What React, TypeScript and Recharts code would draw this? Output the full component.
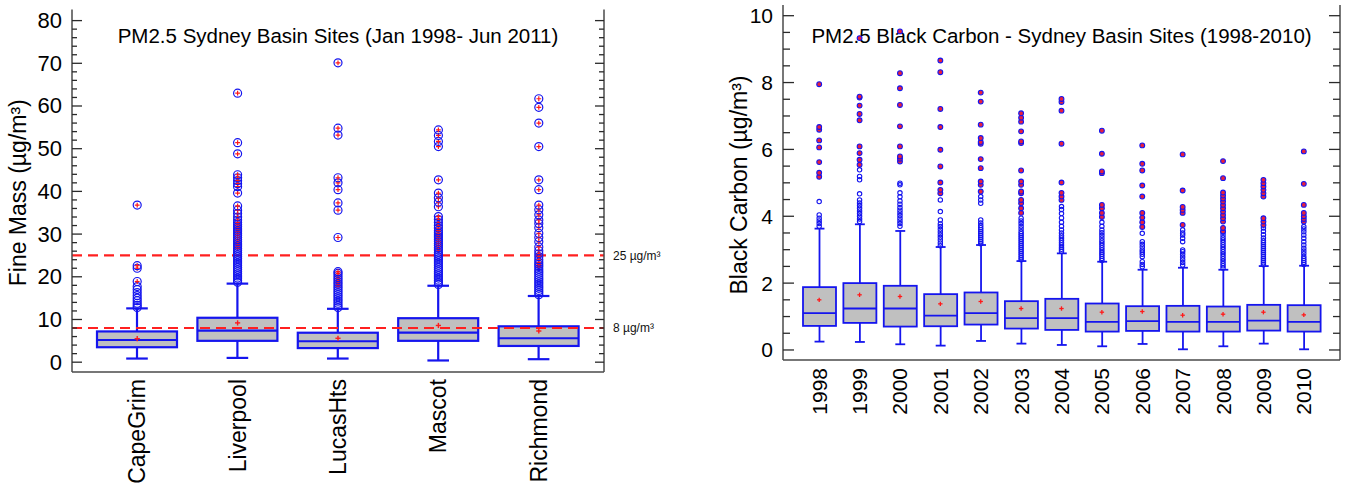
import React from 'react';
import { ComposedChart, Bar, Scatter, XAxis, YAxis, ReferenceLine } from 'recharts';

const FONT = '"Liberation Sans", Arial, Helvetica, sans-serif';
const BLUE = '#1515ee';
const RED = '#ff1a1a';
const GRAY = '#c0c0c0';
const FRAME = '#4a4a4a';

// ---------------- Left chart: PM2.5 fine mass ----------------
const fmTitle = 'PM2.5 Sydney Basin Sites (Jan 1998- Jun 2011)';
const fmYLabel = 'Fine Mass (µg/m³)';
const fmSites = ['CapeGrim', 'Liverpool', 'LucasHts', 'Mascot', 'Richmond'];
const fmMin = [0.85, 1.0, 0.85, 0.4, 0.7];
const fmQ1 = [3.5, 5.0, 3.3, 5.0, 3.8];
const fmMedian = [5.2, 7.4, 4.9, 6.9, 5.6];
const fmQ3 = [7.2, 10.4, 6.9, 10.3, 8.4];
const fmMax = [12.6, 18.4, 12.5, 17.9, 15.5];
const fmMean = [5.5, 9.2, 5.6, 8.6, 7.3];
const fmMild = [
  [12.8, 13.3, 13.8, 14.4, 15.0, 15.6, 16.3, 17.0, 17.7],
  [18.7, 19.2, 19.7, 20.2, 20.7, 21.2, 21.7, 22.2, 22.7, 23.2, 23.7, 24.2, 24.7, 25.2, 25.7, 26.2],
  [12.8, 13.3, 13.8, 14.3, 14.8, 15.3, 15.8, 16.3, 16.8, 17.3],
  [18.2, 18.7, 19.2, 19.7, 20.2, 20.7, 21.2, 21.7, 22.2, 22.7, 23.2, 23.7, 24.2, 24.7, 25.2, 25.7],
  [15.8, 16.3, 16.8, 17.3, 17.8, 18.3, 18.8, 19.3, 19.8, 20.3, 20.8, 21.3, 21.8],
];
const fmExtreme = [
  [18.9, 22.0, 22.6, 36.8],
  [26.7, 27.2, 27.7, 28.2, 28.7, 29.2, 29.7, 30.2, 30.7, 31.2, 31.7, 32.2, 32.7, 33.3, 34.0, 34.8, 35.6, 36.6, 39.6, 41.1, 41.8, 42.5, 43.2, 43.9, 48.8, 51.4, 63.0],
  [17.8, 18.3, 18.8, 19.3, 19.8, 20.3, 20.8, 21.2, 29.2, 35.6, 37.3, 40.4, 42.0, 43.2, 53.2, 54.8, 70.1],
  [26.3, 26.8, 27.3, 27.8, 28.3, 28.8, 29.3, 29.8, 30.3, 30.8, 31.4, 32.0, 32.7, 33.4, 34.1, 36.4, 37.5, 38.5, 39.6, 42.7, 50.5, 51.7, 53.1, 54.4],
  [22.4, 22.9, 23.4, 24.0, 24.7, 25.4, 26.1, 27.0, 28.2, 29.2, 30.2, 31.5, 32.5, 33.3, 34.5, 35.7, 36.8, 40.4, 42.7, 50.5, 56.0, 59.7, 61.7],
];
const fmLimits = [25, 8];
const fmLimitLabels = ['25 µg/m³', '8 µg/m³'];
const fmDomain = [-2.3, 82.6];
const fmTicks = Array.from({ length: 41 }, (_, i) => i * 2);

// ---------------- Right chart: black carbon ----------------
const bcTitle = 'PM2.5 Black Carbon - Sydney Basin Sites (1998-2010)';
const bcYLabel = 'Black Carbon (µg/m³)';
const bcYears = ['1998', '1999', '2000', '2001', '2002', '2003', '2004', '2005', '2006', '2007', '2008', '2009', '2010'];
const bcMin = [0.25, 0.24, 0.17, 0.13, 0.27, 0.19, 0.15, 0.11, 0.18, 0.02, 0.11, 0.19, 0.02];
const bcQ1 = [0.72, 0.81, 0.7, 0.71, 0.76, 0.64, 0.6, 0.55, 0.57, 0.55, 0.55, 0.58, 0.55];
const bcMedian = [1.1, 1.24, 1.24, 1.03, 1.1, 0.95, 0.95, 0.84, 0.86, 0.84, 0.84, 0.88, 0.84];
const bcQ3 = [1.88, 2.0, 1.92, 1.67, 1.72, 1.46, 1.53, 1.39, 1.31, 1.32, 1.3, 1.35, 1.34];
const bcMax = [3.63, 3.76, 3.56, 3.08, 3.14, 2.66, 2.89, 2.64, 2.4, 2.46, 2.4, 2.51, 2.52];
const bcMean = [1.5, 1.65, 1.6, 1.38, 1.45, 1.24, 1.24, 1.13, 1.15, 1.04, 1.07, 1.13, 1.05];
const bcMild = [
  [3.7, 3.78, 3.86, 3.94, 4.04, 4.44],
  [3.84, 3.92, 4.0, 4.08, 4.16, 4.24, 4.32, 4.4, 4.49, 4.67, 5.09, 5.19, 5.39],
  [3.7, 3.78, 3.86, 3.94, 4.02, 4.1, 4.18, 4.26, 4.36, 4.46, 4.58, 4.7, 4.94, 4.99],
  [3.12, 3.2, 3.29, 3.37, 3.45, 3.53, 3.61, 3.69, 3.77, 3.89, 4.14, 4.49],
  [3.18, 3.24, 3.3, 3.36, 3.42, 3.48, 3.54, 3.6, 3.66, 3.72, 3.8, 3.89, 4.39, 4.49, 4.59],
  [2.7, 2.76, 2.82, 2.88, 2.94, 3.0, 3.06, 3.12, 3.18, 3.24, 3.3, 3.36, 3.42, 3.48, 3.54, 3.62, 3.7, 3.78, 3.86, 3.94],
  [2.95, 3.01, 3.07, 3.14, 3.21, 3.28, 3.35, 3.42, 3.5, 3.59, 3.7, 3.82, 3.95, 4.08, 4.2, 4.29],
  [2.68, 2.74, 2.8, 2.86, 2.92, 2.99, 3.06, 3.13, 3.2, 3.27, 3.35, 3.43, 3.51, 3.59, 3.7, 3.82],
  [2.49, 2.56, 2.64, 2.79, 2.86, 2.93, 2.99, 3.08, 3.16, 3.24, 3.49],
  [2.54, 2.62, 2.7, 2.78, 2.86, 2.94, 2.99, 3.24, 3.34, 3.44, 3.5, 3.59],
  [2.45, 2.52, 2.59, 2.66, 2.73, 2.8, 2.87, 2.94, 3.01, 3.08, 3.15, 3.22, 3.29, 3.36, 3.44, 3.52],
  [2.55, 2.61, 2.67, 2.73, 2.79, 2.85, 2.91, 2.97, 3.03, 3.09, 3.15, 3.21, 3.27, 3.35, 3.45, 3.55, 3.65],
  [2.56, 2.62, 2.68, 2.74, 2.8, 2.88, 2.96, 3.04, 3.14, 3.24, 3.34, 3.44, 3.54, 3.62, 3.69],
];
const bcExtreme = [
  [5.18, 5.3, 5.62, 6.06, 6.27, 6.59, 6.67, 7.95],
  [5.54, 5.69, 5.89, 6.09, 6.87, 7.06, 7.31, 7.55, 7.58, 9.33],
  [5.64, 5.72, 5.79, 6.09, 6.69, 7.33, 7.83, 8.28, 9.53],
  [4.69, 4.79, 5.01, 5.49, 5.99, 6.67, 7.21, 8.31, 8.66],
  [4.74, 4.94, 5.04, 5.44, 5.71, 6.17, 6.22, 6.34, 6.74, 7.43, 7.7],
  [4.1, 4.24, 4.39, 4.49, 4.69, 4.74, 4.94, 5.04, 5.37, 6.19, 6.24, 6.54, 6.83, 6.95, 7.08],
  [4.49, 4.59, 4.7, 5.01, 6.17, 7.16, 7.42, 7.51],
  [3.98, 4.1, 4.24, 4.34, 5.29, 5.34, 5.87, 6.56],
  [3.68, 3.82, 3.96, 4.1, 4.59, 4.92, 5.37, 5.57, 6.12],
  [3.74, 4.1, 4.19, 4.28, 4.77, 5.85],
  [3.55, 3.65, 3.84, 3.94, 4.04, 4.14, 4.24, 4.34, 4.44, 4.53, 4.62, 4.71, 5.14, 5.65],
  [3.74, 3.84, 3.94, 4.59, 4.69, 4.79, 4.89, 4.99, 5.09],
  [3.84, 3.92, 4.0, 4.1, 4.34, 4.97, 5.94],
];
const bcDomain = [-0.3, 10.32];
const bcTicks = Array.from({ length: 21 }, (_, i) => i * 0.5);

// ---------------- table builders ----------------
type Row = { name: string; min: number; q1: number; median: number; q3: number; max: number; mean: number };
const buildRows = (names: string[], mn: number[], q1: number[], md: number[], q3: number[], mx: number[], me: number[]): Row[] =>
  names.map((name, i) => ({ name, min: mn[i], q1: q1[i], median: md[i], q3: q3[i], max: mx[i], mean: me[i] }));
const buildPoints = (names: string[], groups: number[][]) =>
  names.flatMap((name, i) => groups[i].map((v) => ({ name, v })));

const fmRows = buildRows(fmSites, fmMin, fmQ1, fmMedian, fmQ3, fmMax, fmMean);
const bcRows = buildRows(bcYears, bcMin, bcQ1, bcMedian, bcQ3, bcMax, bcMean);
const fmMildPts = buildPoints(fmSites, fmMild);
const fmExtremePts = buildPoints(fmSites, fmExtreme);
const bcMildPts = buildPoints(bcYears, bcMild);
const bcExtremePts = buildPoints(bcYears, bcExtreme);

// ---------------- shapes ----------------
const makeBox = (lw: number, capFrac: number) => (props: any) => {
  const { x, y, width, height, payload } = props;
  if (!payload || width == null || height == null) return <g />;
  const top = Math.min(y, y + height);
  const h = Math.abs(height);
  const { min, max, q1, median, q3 } = payload as Row;
  const py = (v: number) => top + ((max - v) / (max - min)) * h;
  const cx = x + width / 2;
  const cw = (width * capFrac) / 2;
  return (
    <g>
      <line x1={cx} x2={cx} y1={py(max)} y2={py(q3)} stroke={BLUE} strokeWidth={lw} />
      <line x1={cx} x2={cx} y1={py(q1)} y2={py(min)} stroke={BLUE} strokeWidth={lw} />
      <line x1={cx - cw} x2={cx + cw} y1={py(max)} y2={py(max)} stroke={BLUE} strokeWidth={lw} />
      <line x1={cx - cw} x2={cx + cw} y1={py(min)} y2={py(min)} stroke={BLUE} strokeWidth={lw} />
      <rect x={x} y={py(q3)} width={width} height={py(q1) - py(q3)} fill={GRAY} stroke={BLUE} strokeWidth={lw} />
      <line x1={x} x2={x + width} y1={py(median)} y2={py(median)} stroke={BLUE} strokeWidth={lw} />
    </g>
  );
};

const makePlus = (half: number, sw: number) => (props: any) => {
  const { cx, cy } = props;
  if (cx == null || cy == null) return <g />;
  return (
    <g>
      <line x1={cx - half} x2={cx + half} y1={cy} y2={cy} stroke={RED} strokeWidth={sw} />
      <line x1={cx} x2={cx} y1={cy - half} y2={cy + half} stroke={RED} strokeWidth={sw} />
    </g>
  );
};

const makeCircle = (r: number, sw: number, fill: string, plus: number) => (props: any) => {
  const { cx, cy } = props;
  if (cx == null || cy == null) return <g />;
  return (
    <g>
      <circle cx={cx} cy={cy} r={r} fill={fill} stroke={BLUE} strokeWidth={sw} />
      {plus > 0 && (
        <g>
          <line x1={cx - plus} x2={cx + plus} y1={cy} y2={cy} stroke={RED} strokeWidth={1.2} />
          <line x1={cx} x2={cx} y1={cy - plus} y2={cy + plus} stroke={RED} strokeWidth={1.2} />
        </g>
      )}
    </g>
  );
};

// ---------------- axis ticks ----------------
const makeYTick = (side: 'left' | 'right', majorStep: number, majorLen: number, minorLen: number, fontSize: number, showLabel: boolean) =>
  (props: any) => {
    const { x, y, payload } = props;
    const v = payload.value as number;
    const r = v / majorStep;
    const isMajor = Math.abs(r - Math.round(r)) < 1e-6;
    const len = isMajor ? majorLen : minorLen;
    const dir = side === 'left' ? 1 : -1;
    return (
      <g>
        <line x1={x} x2={x + dir * len} y1={y} y2={y} stroke="#2a2a2a" strokeWidth={1.3} />
        {showLabel && isMajor && (
          <text x={x - 10} y={y} textAnchor="end" dominantBaseline="central" fontSize={fontSize} fontFamily={FONT} fill="#000">
            {v}
          </text>
        )}
      </g>
    );
  };

const makeXTick = (fontSize: number, offset: number) => (props: any) => {
  const { x, y, payload } = props;
  const ty = y + offset;
  return (
    <text x={x} y={ty} transform={`rotate(-90 ${x} ${ty})`} textAnchor="end" dominantBaseline="central" fontSize={fontSize} fontFamily={FONT} fill="#000">
      {payload.value}
    </text>
  );
};

// y-axis label + chart title (title centred over the plot, whose width is a layout constant)
const makeYLabelAndTitle = (
  label: string, bx: number, dyc: number, fontSize: number,
  title: string, plotWidth: number, titleDy: number, titleSize: number,
) => (props: any) => {
  const vb = props.viewBox || {};
  const x = vb.x + bx;
  const y = vb.y + vb.height / 2 + dyc;
  const tx = vb.x + vb.width + plotWidth / 2;
  const ty = vb.y + titleDy;
  return (
    <g>
      <text x={x} y={y} transform={`rotate(-90 ${x} ${y})`} textAnchor="middle" fontSize={fontSize} fontFamily={FONT} fill="#000">
        {label}
      </text>
      <text x={tx} y={ty} textAnchor="middle" fontSize={titleSize} fontFamily={FONT} fill="#000">
        {title}
      </text>
    </g>
  );
};

const frame = { stroke: FRAME, strokeWidth: 1.5 };

function FineMassChart() {
  return (
    <ComposedChart width={680} height={487} data={fmRows} margin={{ top: 9.5, right: 0, bottom: 0, left: 0 }}>
      <XAxis
        dataKey="name"
        type="category"
        allowDuplicatedCategory={false}
        height={115}
        padding={{ left: 15, right: 15 }}
        tickSize={0}
        tickMargin={0}
        tickLine={false}
        axisLine={frame}
        interval={0}
        tick={makeXTick(23, 7)}
      />
      <XAxis
        xAxisId="top"
        dataKey="name"
        type="category"
        allowDuplicatedCategory={false}
        orientation="top"
        height={0}
        tick={false}
        tickLine={false}
        axisLine={frame}
      />
      <YAxis
        yAxisId="l"
        type="number"
        domain={fmDomain}
        allowDataOverflow
        ticks={fmTicks}
        interval={0}
        width={72}
        tickSize={0}
        tickMargin={0}
        tickLine={false}
        axisLine={frame}
        tick={makeYTick('left', 10, 10, 5, 22, true)}
        label={{ content: makeYLabelAndTitle(fmYLabel, 26, 2, 23, fmTitle, 532, 33.5, 20.5) }}
      />
      <YAxis
        yAxisId="r"
        orientation="right"
        type="number"
        domain={fmDomain}
        allowDataOverflow
        ticks={fmTicks}
        interval={0}
        width={76}
        tickSize={0}
        tickMargin={0}
        tickLine={false}
        axisLine={frame}
        tick={makeYTick('right', 10, 9, 5, 22, false)}
      />
      <Bar
        yAxisId="l"
        dataKey={(d: Row) => [d.min, d.max]}
        barSize={80}
        shape={makeBox(2.2, 0.27)}
        isAnimationActive={false}
      />
      <Scatter yAxisId="l" data={fmMildPts} dataKey="v" shape={makeCircle(4, 1.2, 'none', 0)} isAnimationActive={false} />
      <Scatter yAxisId="l" data={fmExtremePts} dataKey="v" shape={makeCircle(4, 1.2, 'none', 2.4)} isAnimationActive={false} />
      <Scatter yAxisId="l" dataKey="mean" shape={makePlus(2.6, 1.4)} isAnimationActive={false} />
      {fmLimits.map((lim, i) => (
        <ReferenceLine
          key={lim}
          yAxisId="l"
          y={lim}
          stroke="#ff2020"
          strokeWidth={2.2}
          strokeDasharray="10 6"
          label={{ value: fmLimitLabels[i], position: 'right', offset: 9, fontSize: 12, fill: '#111', fontFamily: FONT }}
        />
      ))}
    </ComposedChart>
  );
}

function BlackCarbonChart() {
  return (
    <ComposedChart width={658} height={487} data={bcRows} margin={{ top: 5, right: 0, bottom: 0, left: 0 }}>
      <XAxis
        dataKey="name"
        type="category"
        allowDuplicatedCategory={false}
        height={127}
        padding={{ left: 16, right: 16 }}
        tickSize={0}
        tickMargin={0}
        tickLine={false}
        axisLine={frame}
        interval={0}
        tick={makeXTick(21, 8)}
      />
      <XAxis
        xAxisId="top"
        dataKey="name"
        type="category"
        allowDuplicatedCategory={false}
        orientation="top"
        height={0}
        tick={false}
        tickLine={false}
        axisLine={frame}
      />
      <YAxis
        yAxisId="l"
        type="number"
        domain={bcDomain}
        allowDataOverflow
        ticks={bcTicks}
        interval={0}
        width={93}
        tickSize={0}
        tickMargin={0}
        tickLine={false}
        axisLine={frame}
        tick={makeYTick('left', 2, 11, 7, 21, true)}
        label={{ content: makeYLabelAndTitle(bcYLabel, 57, 2.5, 23, bcTitle, 557, 38, 20.5) }}
      />
      <YAxis
        yAxisId="r"
        orientation="right"
        type="number"
        domain={bcDomain}
        allowDataOverflow
        ticks={bcTicks}
        interval={0}
        width={8}
        tickSize={0}
        tickMargin={0}
        tickLine={false}
        axisLine={frame}
        tick={makeYTick('right', 2, 11, 7, 21, false)}
      />
      <Bar
        yAxisId="l"
        dataKey={(d: Row) => [d.min, d.max]}
        barSize={33}
        shape={makeBox(1.8, 0.3)}
        isAnimationActive={false}
      />
      <Scatter yAxisId="l" data={bcMildPts} dataKey="v" shape={makeCircle(2.2, 1.1, 'none', 0)} isAnimationActive={false} />
      <Scatter yAxisId="l" data={bcExtremePts} dataKey="v" shape={makeCircle(2.4, 1.1, '#e8203c', 0)} isAnimationActive={false} />
      <Scatter yAxisId="l" dataKey="mean" shape={makePlus(2.2, 1.3)} isAnimationActive={false} />
    </ComposedChart>
  );
}

export default function App() {
  return (
    <div style={{ position: 'absolute', left: 0, top: 0, width: 1348, height: 487, background: '#fff', overflow: 'hidden' }}>
      <div style={{ position: 'absolute', left: 0, top: 0 }}>
        <FineMassChart />
      </div>
      <div style={{ position: 'absolute', left: 690, top: 0 }}>
        <BlackCarbonChart />
      </div>
    </div>
  );
}
